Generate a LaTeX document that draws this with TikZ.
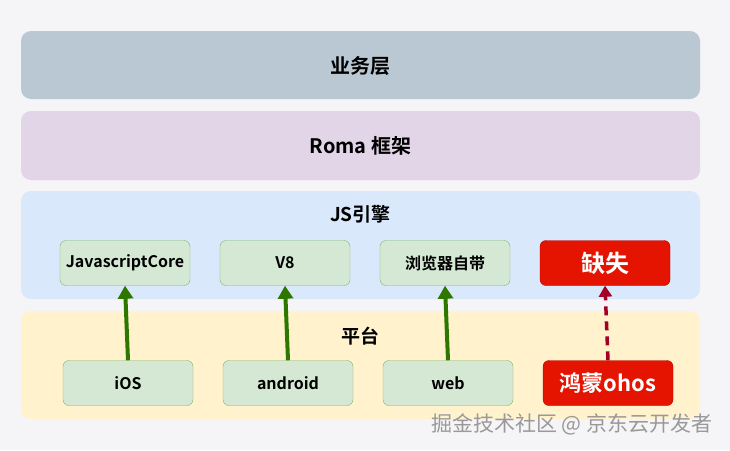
\documentclass[tikz,border=0pt]{standalone}
\usepackage{fontspec}
\setmainfont{Noto Sans CJK SC}[BoldFont={Noto Sans CJK SC Bold}]
\usetikzlibrary{arrows.meta}
\definecolor{pagebg}{HTML}{F5F4F6}
\definecolor{bizfill}{HTML}{BAC8D3}
\definecolor{romafill}{HTML}{E1D5E7}
\definecolor{jsfill}{HTML}{DAE8FC}
\definecolor{platfill}{HTML}{FFF2CC}
\definecolor{boxfill}{HTML}{D5E8D4}
\definecolor{boxline}{HTML}{82B366}
\definecolor{missfill}{HTML}{E51400}
\definecolor{missline}{HTML}{B20000}
\definecolor{okarrow}{HTML}{2D7600}
\definecolor{noarrow}{HTML}{A20025}
\tikzset{
  layer/.style={fill=#1, rounded corners=10pt, minimum width=679pt, inner sep=0pt},
  engbox/.style={draw=boxline, fill=boxfill, rounded corners=6pt, minimum width=130pt,
    minimum height=45pt, inner sep=0pt, font=\fontsize{16}{18}\selectfont\bfseries},
  missbox/.style={draw=missline, fill=missfill, text=white, rounded corners=6pt, minimum width=130pt,
    minimum height=45pt, inner sep=0pt, font=\fontsize{22}{24}\selectfont\bfseries},
  title/.style={font=\fontsize{19}{21}\selectfont\bfseries},
  okline/.style={draw=okarrow, line width=4pt, -{Triangle[width=15pt,length=13pt]}},
  noline/.style={draw=noarrow, line width=3.5pt, dash pattern=on 9pt off 6pt, -{Triangle[width=13pt,length=11pt]}}
}
\begin{document}
\begin{tikzpicture}[x=1pt,y=-1pt]
	\fill[pagebg] (0,0) rectangle (730,450);
	\useasboundingbox (0,0) rectangle (730,450);
	% layers
	\node[layer=bizfill, minimum height=68pt] (biz) at (360.5,65) {};
	\node[layer=romafill, minimum height=69pt] (roma) at (360.5,145.5) {};
	\node[layer=jsfill, minimum height=108pt] (js) at (360.5,245) {};
	\node[layer=platfill, minimum height=108pt] (plat) at (360.5,365) {};
	\node[title, font=\fontsize{20}{22}\selectfont\bfseries] (biztitle) at (360.5,66) {业务层};
	\node[title, font=\fontsize{20}{22}\selectfont\bfseries] (romatitle) at (360.5,146) {Roma 框架};
	\node[title] (jstitle) at (360.5,214) {JS引擎};
	\node[title] (plattitle) at (360.5,336) {平台};
	% engines
	\node[engbox] (jsc) at (125,263) {JavascriptCore};
	\node[engbox] (veight) at (285,263) {V8};
	\node[engbox] (browser) at (445,263) {浏览器自带};
	\node[missbox, font=\fontsize{24}{26}\selectfont\bfseries] (miss) at (605,263) {缺失};
	% platforms
	\node[engbox] (ios) at (128,383) {iOS};
	\node[engbox] (android) at (288,383) {android};
	\node[engbox] (web) at (448,383) {web};
	\node[missbox] (ohos) at (608,383) {鸿蒙ohos};
	% arrows
	\draw[okline] (ios.north) -- (jsc.south);
	\draw[okline] (android.north) -- (veight.south);
	\draw[okline] (web.north) -- (browser.south);
	\draw[noline] (ohos.north) -- (miss.south);
	% watermark
	\node[anchor=east, text=black!40, font=\fontsize{21}{23}\selectfont] (mark) at (716,424) {掘金技术社区 @ 京东云开发者};
\end{tikzpicture}
\end{document}
